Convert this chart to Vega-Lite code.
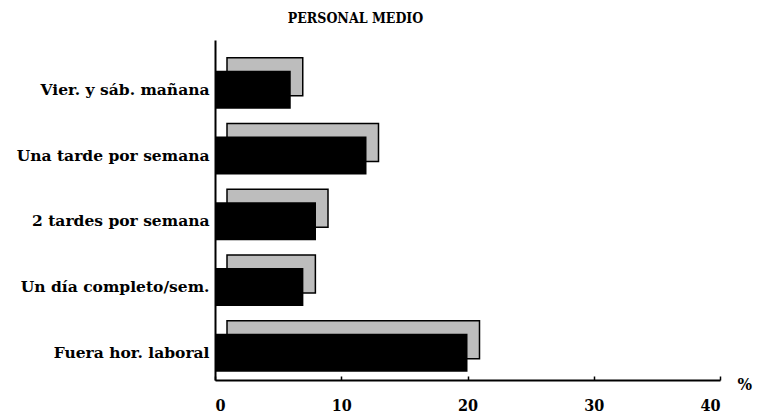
{
  "$schema": "https://vega.github.io/schema/vega-lite/v6.json",
  "autosize": "none",
  "width": 505,
  "height": 340,
  "padding": {"left": 215, "top": 40, "right": 39, "bottom": 33},
  "background": "white",
  "title": {
    "text": "PERSONAL MEDIO",
    "font": "DejaVu Serif Condensed",
    "fontWeight": "bold",
    "fontSize": 14,
    "color": "black",
    "anchor": "middle",
    "dx": -112,
    "offset": 14
  },
  "data": {
    "values": [
      {"cat": "Vier. y sáb. mañana", "pct": 6},
      {"cat": "Una tarde por semana", "pct": 12},
      {"cat": "2 tardes por semana", "pct": 8},
      {"cat": "Un día completo/sem.", "pct": 7},
      {"cat": "Fuera hor. laboral", "pct": 20}
    ]
  },
  "config": {
    "view": {"stroke": null},
    "axis": {"grid": false}
  },
  "encoding": {
    "y": {
      "field": "cat",
      "type": "nominal",
      "sort": null,
      "title": null,
      "scale": {"paddingInner": 0.422, "paddingOuter": 0.296, "align": 0.79},
      "axis": {
        "domainColor": "black",
        "domainWidth": 2,
        "ticks": false,
        "labelFont": "DejaVu Serif",
        "labelFontWeight": "bold",
        "labelFontSize": 15.5,
        "labelLimit": 300,
        "labelColor": "black",
        "labelPadding": 6
      }
    },
    "x": {
      "field": "pct",
      "type": "quantitative",
      "scale": {"domain": [0, 40]},
      "title": "%",
      "axis": {
        "values": [0, 10, 20, 30, 40],
        "domainColor": "black",
        "domainWidth": 2,
        "tickColor": "black",
        "tickSize": -4,
        "tickWidth": 1.5,
        "labelFont": "DejaVu Serif Condensed",
        "labelFontWeight": "bold",
        "labelFontSize": 16,
        "labelColor": "black",
        "labelPadding": 21,
        "titleFont": "DejaVu Serif Condensed",
        "titleFontWeight": "bold",
        "titleFontSize": 17,
        "titleColor": "black",
        "titleAngle": 0,
        "titleAnchor": "end",
        "titleAlign": "left",
        "titleBaseline": "middle",
        "titleX": 522,
        "titleY": 4
      }
    }
  },
  "layer": [
    {
      "mark": {"type": "bar", "color": "#bdbdbd", "stroke": "black", "strokeWidth": 1.5, "xOffset": 12, "yOffset": -13}
    },
    {
      "mark": {"type": "bar", "color": "black"}
    }
  ]
}
